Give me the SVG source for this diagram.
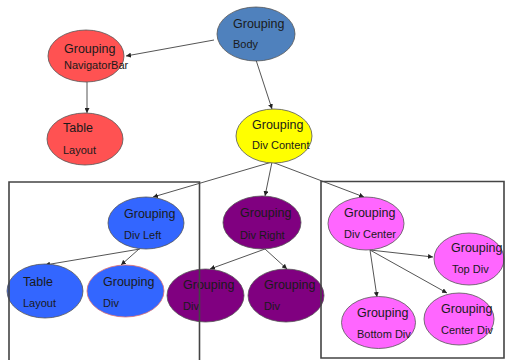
<svg xmlns="http://www.w3.org/2000/svg" width="505" height="360" viewBox="0 0 505 360">
  <defs>
    <marker id="arr" viewBox="0 0 10 10" refX="10" refY="5" markerWidth="5" markerHeight="5" orient="auto" markerUnits="userSpaceOnUse">
      <path d="M0,0 L10,5 L0,10 z" fill="#222"/>
    </marker>
    <style>
      .node ellipse { stroke: #555; stroke-width: 0.8; }
      .t1 { font-family: "Liberation Sans", Arial, sans-serif; font-size: 12.5px; fill: #1a1a1a; }
      .t2 { font-family: "Liberation Sans", Arial, sans-serif; font-size: 11px; fill: #1a1a1a; }
      .edge { stroke: #555; stroke-width: 1; fill: none; marker-end: url(#arr); }
      .frame { stroke: #444; stroke-width: 1.6; fill: none; }
      .red { fill: #ff5252; }
      .steel { fill: #4f81bd; }
      .yellow { fill: #ffff00; }
      .blue { fill: #3366ff; }
      .purple { fill: #800080; }
      .pink { fill: #ff66ff; }
    </style>
  </defs>
  <rect width="505" height="360" fill="#ffffff"/>

  <g id="connectors">
    <line class="edge" x1="214" y1="40" x2="126" y2="56"/>
    <line class="edge" x1="87" y1="82" x2="87" y2="113"/>
    <line class="edge" x1="256" y1="60" x2="272" y2="109"/>
    <line class="edge" x1="272" y1="162" x2="153" y2="197"/>
    <line class="edge" x1="272" y1="162" x2="265" y2="196"/>
    <line class="edge" x1="272" y1="162" x2="364" y2="197"/>
    <line class="edge" x1="140" y1="249" x2="45" y2="265"/>
    <line class="edge" x1="139" y1="249" x2="121" y2="265"/>
    <line class="edge" x1="265" y1="249" x2="210" y2="269"/>
    <line class="edge" x1="265" y1="249" x2="287" y2="269"/>
    <line class="edge" x1="370" y1="250" x2="433" y2="257"/>
    <line class="edge" x1="370" y1="250" x2="377" y2="297"/>
    <line class="edge" x1="370" y1="250" x2="447" y2="293"/>
  </g>

  <g id="body" class="node">
    <ellipse class="steel" cx="256" cy="34" rx="39" ry="27"/>
    <text class="t1" x="233" y="28">Grouping</text>
    <text class="t2" x="233" y="48">Body</text>
  </g>
  <g id="navigator-bar" class="node">
    <ellipse class="red" cx="86" cy="56" rx="38" ry="26"/>
    <text class="t1" x="64" y="53">Grouping</text>
    <text class="t2" x="64" y="69">NavigatorBar</text>
  </g>
  <g id="table-layout-top" class="node">
    <ellipse class="red" cx="85" cy="139" rx="38" ry="26"/>
    <text class="t1" x="63" y="132">Table</text>
    <text class="t2" x="63" y="154">Layout</text>
  </g>
  <g id="div-content" class="node">
    <ellipse class="yellow" cx="274" cy="136" rx="38" ry="27"/>
    <text class="t1" x="252" y="129">Grouping</text>
    <text class="t2" x="252" y="149">Div Content</text>
  </g>
  <g id="div-left" class="node">
    <ellipse class="blue" cx="146" cy="223" rx="38" ry="26"/>
    <text class="t1" x="124" y="218">Grouping</text>
    <text class="t2" x="124" y="239">Div Left</text>
  </g>
  <g id="table-layout-left" class="node">
    <ellipse class="blue" cx="45" cy="291" rx="38" ry="27"/>
    <text class="t1" x="23" y="286">Table</text>
    <text class="t2" x="23" y="307">Layout</text>
  </g>
  <g id="div-left-div" class="node">
    <ellipse class="blue" cx="125.5" cy="291" rx="38.5" ry="26" style="stroke:#e07070"/>
    <text class="t1" x="103" y="286">Grouping</text>
    <text class="t2" x="103" y="307">Div</text>
  </g>
  <g id="div-right" class="node">
    <ellipse class="purple" cx="262" cy="222.5" rx="39" ry="26.5"/>
    <text class="t1" x="240" y="217">Grouping</text>
    <text class="t2" x="240" y="239">Div Right</text>
  </g>
  <g id="div-right-div-1" class="node">
    <ellipse class="purple" cx="205.5" cy="295.5" rx="38.5" ry="26.5"/>
    <text class="t1" x="183" y="289">Grouping</text>
    <text class="t2" x="183" y="310">Div</text>
  </g>
  <g id="div-right-div-2" class="node">
    <ellipse class="purple" cx="286" cy="295.5" rx="38" ry="26.5"/>
    <text class="t1" x="264" y="289">Grouping</text>
    <text class="t2" x="264" y="310">Div</text>
  </g>
  <g id="div-center" class="node">
    <ellipse class="pink" cx="366" cy="223.5" rx="38" ry="26.5"/>
    <text class="t1" x="344" y="217">Grouping</text>
    <text class="t2" x="344" y="238">Div Center</text>
  </g>
  <g id="top-div" class="node">
    <ellipse class="pink" cx="469" cy="259" rx="35" ry="26"/>
    <text class="t1" x="451" y="252">Grouping</text>
    <text class="t2" x="452" y="273">Top Div</text>
  </g>
  <g id="bottom-div" class="node">
    <ellipse class="pink" cx="378.5" cy="322.5" rx="37" ry="26"/>
    <text class="t1" x="357" y="317">Grouping</text>
    <text class="t2" x="357" y="338">Bottom Div</text>
  </g>
  <g id="center-div" class="node">
    <ellipse class="pink" cx="459" cy="319" rx="35" ry="26"/>
    <text class="t1" x="441" y="313">Grouping</text>
    <text class="t2" x="441" y="334">Center Div</text>
  </g>

  <g id="frames">
    <path class="frame" d="M9,361 L9,182 L199.5,182 L199.5,361"/>
    <path class="frame" d="M321,358 L321,181.5 L504,181.5 L504,358 Z"/>
  </g>
</svg>
